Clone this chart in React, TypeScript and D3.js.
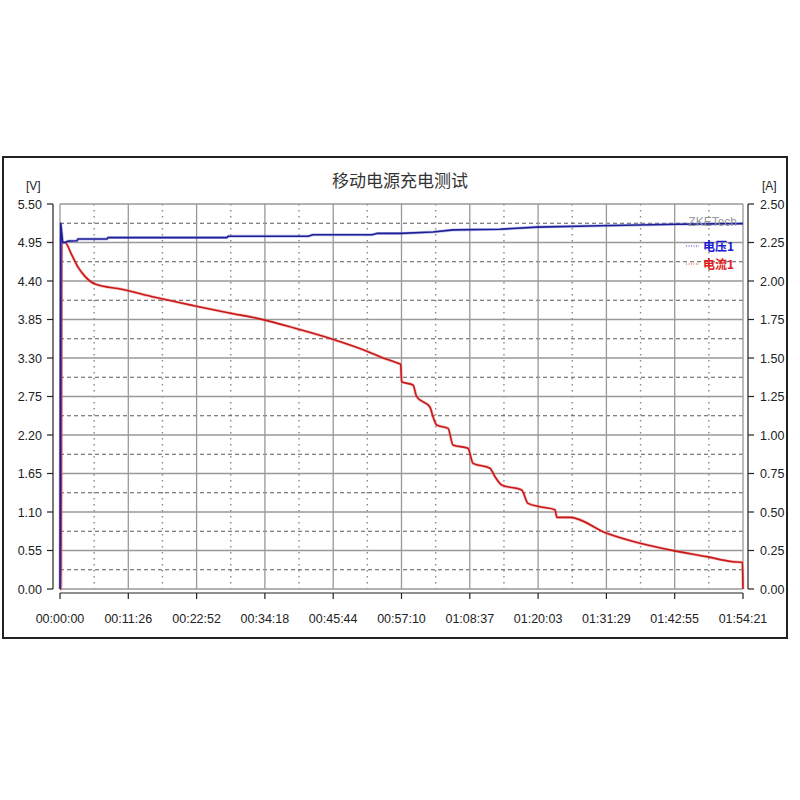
import { curveMonotoneX, line as d3Line, scaleLinear, range } from "d3";

// axis labels
const timeLabels = [
  "00:00:00", "00:11:26", "00:22:52", "00:34:18", "00:45:44", "00:57:10",
  "01:08:37", "01:20:03", "01:31:29", "01:42:55", "01:54:21",
];
const totalSeconds = 6861;
const voltTicks = ["0.00", "0.55", "1.10", "1.65", "2.20", "2.75", "3.30", "3.85", "4.40", "4.95", "5.50"];
const ampTicks = ["0.00", "0.25", "0.50", "0.75", "1.00", "1.25", "1.50", "1.75", "2.00", "2.25", "2.50"];

// 电压1 (V) — seconds / volts
const voltageTime = [0, 8, 27, 50, 80, 171, 181, 472, 482, 1678, 1688, 2491, 2541, 3134, 3184, 3420, 3747, 3948, 4420, 4792, 5425, 6198, 6861];
const voltageValues = [0, 5.22, 4.95, 4.95, 4.97, 4.975, 5.0, 5.0, 5.02, 5.02, 5.04, 5.04, 5.06, 5.06, 5.08, 5.08, 5.1, 5.13, 5.14, 5.17, 5.19, 5.21, 5.22];

// 电流1 (A) — seconds / amps
const currentTime = [0, 12, 17, 50, 118, 181, 251, 352, 620, 954, 1356, 1688, 2029, 2361, 2732, 3094, 3214, 3395, 3422, 3432, 3546, 3583, 3717, 3747, 3784, 3898, 3948, 4098, 4149, 4319, 4370, 4437, 4638, 4701, 4822, 4972, 4992, 5123, 5492, 5826, 6161, 6496, 6763, 6855, 6861];
const currentValues = [0, 0, 2.25, 2.25, 2.17, 2.09, 2.03, 1.98, 1.946, 1.894, 1.838, 1.794, 1.751, 1.693, 1.623, 1.541, 1.508, 1.466, 1.459, 1.346, 1.325, 1.249, 1.18, 1.119, 1.065, 1.043, 0.935, 0.914, 0.816, 0.784, 0.729, 0.675, 0.643, 0.556, 0.534, 0.515, 0.465, 0.465, 0.362, 0.297, 0.249, 0.21, 0.177, 0.173, 0];

const legendNames = ["ZKETech", "电压1", "电流1"];

const left = 60;
const right = 743;
const top = 204;
const bottom = 589;
const font = "'Liberation Sans', Arial, sans-serif";
const cjk = "'Noto Sans CJK SC', sans-serif";

export default function App() {
  const x = scaleLinear().domain([0, totalSeconds]).range([left, right]);
  const yV = scaleLinear().domain([0, 5.5]).range([bottom, top]);
  const yA = scaleLinear().domain([0, 2.5]).range([bottom, top]);

  const voltData = voltageTime.map((t, i) => [t, voltageValues[i]] as [number, number]);
  const currData = currentTime.map((t, i) => [t, currentValues[i]] as [number, number]);

  const vPath = d3Line<[number, number]>().x((d) => x(d[0])).y((d) => yV(d[1]))(voltData) ?? "";
  const aPath =
    d3Line<[number, number]>()
      .x((d) => x(d[0]))
      .y((d) => yA(d[1]))
      .curve(curveMonotoneX)(currData) ?? "";

  const step = totalSeconds / 10;
  const xMajor = range(0, 11).map((i) => x(i * step));
  const xMinor = range(0, 10).map((i) => x((i + 0.5) * step));
  const yMajor = voltTicks.map((v) => yV(+v));
  const yMinor = range(0, 10).map((i) => yV((i + 0.5) * 0.55));

  return (
    <svg
      width={800}
      height={800}
      style={{ position: "absolute", left: 0, top: 0, background: "#fff" }}
    >
      {/* outer frame */}
      <rect x={3} y={157} width={784} height={481} fill="#fff" stroke="#222" strokeWidth={2} />

      {/* title */}
      <text x={400} y={187} textAnchor="middle" fontSize={17} fill="#333" fontFamily={cjk}>
        移动电源充电测试
      </text>

      <text x={26} y={190} fontSize={12} fill="#222" fontFamily={font}>[V]</text>
      <text x={762} y={190} fontSize={12} fill="#222" fontFamily={font}>[A]</text>

      {/* grid */}
      {xMinor.map((px, i) => (
        <line key={`xm${i}`} x1={px} x2={px} y1={top} y2={bottom}
          stroke="#888" strokeWidth={1.4} strokeDasharray="1.5,4.5" />
      ))}
      {yMinor.map((py, i) => (
        <line key={`ym${i}`} x1={left} x2={right} y1={py} y2={py}
          stroke="#5a5a5a" strokeWidth={1.2} strokeDasharray="4,3" />
      ))}
      {xMajor.map((px, i) => (
        <line key={`xM${i}`} x1={px} x2={px} y1={top} y2={bottom} stroke="#999" strokeWidth={1.3} />
      ))}
      {yMajor.map((py, i) => (
        <line key={`yM${i}`} x1={left} x2={right} y1={py} y2={py} stroke="#999" strokeWidth={1.3} />
      ))}

      {/* left axis */}
      <line x1={53} x2={53} y1={top} y2={bottom} stroke="#222" strokeWidth={1.2} />
      {voltTicks.map((v) => (
        <g key={`lv${v}`}>
          <line x1={47} x2={53} y1={yV(+v)} y2={yV(+v)} stroke="#222" strokeWidth={1.2} />
          <text x={42} y={yV(+v) + 4.5} textAnchor="end" fontSize={12.5} fill="#222" fontFamily={font}>{v}</text>
        </g>
      ))}

      {/* right axis */}
      <line x1={748} x2={748} y1={top} y2={bottom} stroke="#222" strokeWidth={1.2} />
      {ampTicks.map((v) => (
        <g key={`ra${v}`}>
          <line x1={748} x2={754} y1={yA(+v)} y2={yA(+v)} stroke="#222" strokeWidth={1.2} />
          <text x={760} y={yA(+v) + 4.5} fontSize={12.5} fill="#222" fontFamily={font}>{v}</text>
        </g>
      ))}

      {/* bottom axis */}
      <line x1={left} x2={right} y1={593} y2={593} stroke="#222" strokeWidth={1.2} />
      {timeLabels.map((lab, i) => (
        <g key={lab}>
          <line x1={x(i * step)} x2={x(i * step)} y1={593} y2={599} stroke="#222" strokeWidth={1.2} />
          <text x={x(i * step)} y={623} textAnchor="middle" fontSize={12.5} fill="#222" fontFamily={font}>{lab}</text>
        </g>
      ))}

      {/* series */}
      <path d={aPath} fill="none" stroke="#f08080" strokeWidth={3} opacity={0.5} strokeLinejoin="round" />
      <path d={aPath} fill="none" stroke="#c81818" strokeWidth={1.6} strokeLinejoin="round" />
      <path d={vPath} fill="none" stroke="#7a7ad8" strokeWidth={3} opacity={0.45} strokeLinejoin="round" />
      <path d={vPath} fill="none" stroke="#1e1e96" strokeWidth={1.6} strokeLinejoin="round" />

      {/* legend */}
      <text x={737} y={226} textAnchor="end" fontSize={12} fill="#9a9a9a" fontFamily={font}>{legendNames[0]}</text>
      <line x1={686} x2={699} y1={246} y2={246} stroke="#3030d0" strokeWidth={1} strokeDasharray="1,1.5" />
      <text x={734} y={250.5} textAnchor="end" fontSize={12} fontWeight="bold" fill="#1a1ad0" fontFamily={cjk}>
        {legendNames[1]}
      </text>
      <line x1={686} x2={699} y1={264} y2={264} stroke="#e03030" strokeWidth={1} strokeDasharray="1,1.5" />
      <text x={734} y={268.5} textAnchor="end" fontSize={12} fontWeight="bold" fill="#e01a1a" fontFamily={cjk}>
        {legendNames[2]}
      </text>
    </svg>
  );
}
